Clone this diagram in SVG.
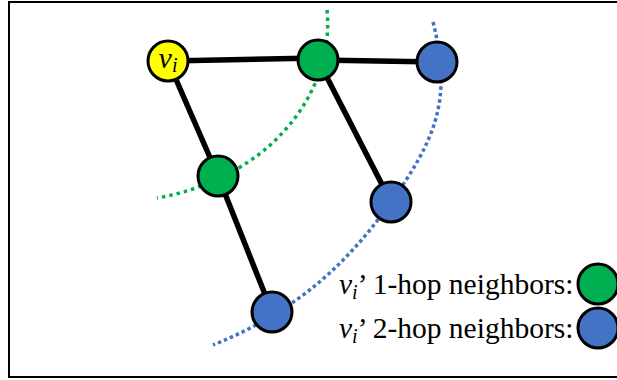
<svg xmlns="http://www.w3.org/2000/svg" width="617" height="380" viewBox="0 0 617 380">
<style>
.edge{stroke:#000;stroke-width:5.5;stroke-linecap:butt;fill:none}
.node{stroke:#000;stroke-width:3}
.yellow{fill:#ffff00}
.green{fill:#00b050}
.blue{fill:#4472c4}
.gdot{fill:none;stroke:#00b050;stroke-width:3.5;stroke-dasharray:3.5 4}
.bdot{fill:none;stroke:#4472c4;stroke-width:3.5;stroke-dasharray:3.5 3}
.m{font-style:italic}
</style>
<rect x="9" y="2" width="620" height="375" fill="#fff" stroke="#000" stroke-width="2"/>
<g id="hop-curves">
<path class="gdot" d="M327,10 C332,60 310,110 268,147 C245,167 205,190 157,198"/>
<path class="bdot" d="M433,22 C453,100 435,140 391,202 C350,260 300,310 213,345"/>
</g>
<g id="connectors">
<line class="edge" x1="168" y1="61" x2="318" y2="58"/>
<line class="edge" x1="318" y1="60" x2="437" y2="62"/>
<line class="edge" x1="168" y1="61" x2="218" y2="176"/>
<line class="edge" x1="218" y1="176" x2="272" y2="312"/>
<line class="edge" x1="318" y1="60" x2="391" y2="202"/>
</g>
<g id="node-vi"><circle class="node yellow" cx="168" cy="61" r="20"/>
<text font-family="'Liberation Serif', 'Times New Roman', serif" font-size="30" x="168" y="68" text-anchor="middle"><tspan class="m">v</tspan><tspan class="m" font-size="20" dy="4">i</tspan></text></g>
<g id="node-g1"><circle class="node green" cx="318" cy="60" r="20"/></g>
<g id="node-g2"><circle class="node green" cx="218" cy="176" r="20"/></g>
<g id="node-b1"><circle class="node blue" cx="437" cy="62" r="20"/></g>
<g id="node-b2"><circle class="node blue" cx="391" cy="202" r="20"/></g>
<g id="node-b3"><circle class="node blue" cx="272" cy="312" r="20"/></g>
<g id="legend" font-family="'Liberation Serif', 'Times New Roman', serif" font-size="29.5">
<text x="339" y="294"><tspan class="m">v</tspan><tspan class="m" font-size="20" dy="5">i</tspan><tspan dy="-5">’ 1-hop neighbors:</tspan></text>
<text x="339" y="338"><tspan class="m">v</tspan><tspan class="m" font-size="20" dy="5">i</tspan><tspan dy="-5">’ 2-hop neighbors:</tspan></text>
<circle class="node green" cx="598" cy="284" r="20"/>
<circle class="node blue" cx="598" cy="328" r="20"/>
</g>
</svg>
